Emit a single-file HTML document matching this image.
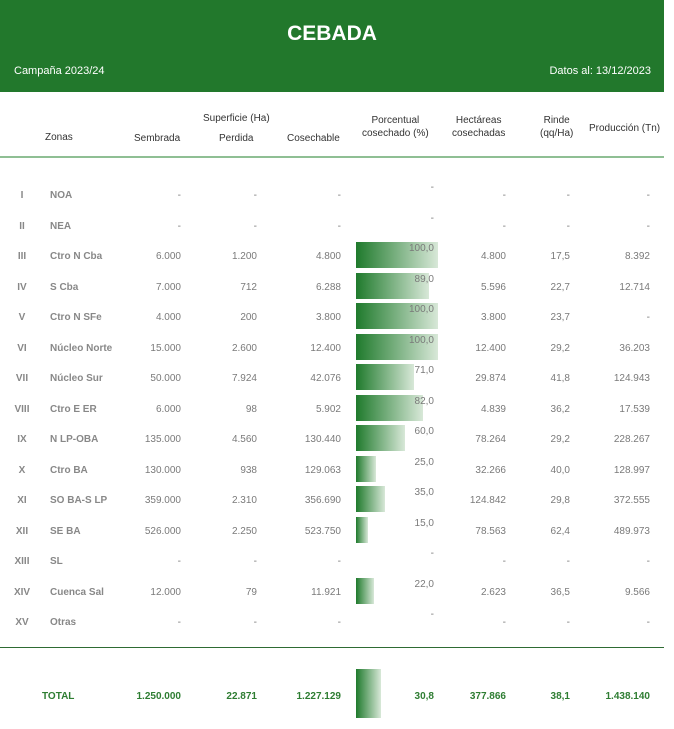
<!DOCTYPE html>
<html><head><meta charset="utf-8"><style>
body{margin:0;width:674px;height:729px;background:#fff;font-family:"Liberation Sans",sans-serif;position:relative;overflow:hidden}
.hd{position:absolute;left:0;top:0;width:664px;height:92px;background:#22782c;color:#fff}
.a{position:absolute;white-space:nowrap}
.r{position:absolute;left:0;width:674px;height:30px;font-size:10px;color:#7a7a7a}
.r span{position:absolute;top:11px;white-space:nowrap}
.n{left:0;width:44px;text-align:center;font-weight:bold;color:#888}
.z{left:50px;font-weight:bold;color:#888}
.c1{right:493px}.c2{right:417px}.c3{right:333px}.c5{right:168px}.c6{right:104px}.c7{right:24px}
.p{right:240px;top:3px!important}
.bar{position:absolute;left:356px;top:2px;height:26px;background:linear-gradient(to right,#1f7a2c,#d8e8d8)}
.th{position:absolute;font-size:10px;color:#333;text-align:center;white-space:nowrap}
.t span{color:#2e7d32;font-weight:bold}
</style></head><body>
<div class="hd">
<div class="a" style="left:0;width:664px;top:22px;text-align:center;font-size:21px;font-weight:bold">CEBADA</div>
<div class="a" style="left:14px;top:65px;font-size:11px">Campaña 2023/24</div>
<div class="a" style="right:13px;top:65px;font-size:11px">Datos al: 13/12/2023</div>
</div>
<div class="th" style="left:45px;top:132px">Zonas</div>
<div class="th" style="left:134px;top:133px">Sembrada</div>
<div class="th" style="left:203px;top:113px">Superficie (Ha)</div>
<div class="th" style="left:219px;top:133px">Perdida</div>
<div class="th" style="left:287px;top:133px">Cosechable</div>
<div class="th" style="left:362px;top:114px;line-height:13px">Porcentual<br>cosechado (%)</div>
<div class="th" style="left:452px;top:114px;line-height:13px">Hectáreas<br>cosechadas</div>
<div class="th" style="left:540px;top:114px;line-height:13px">Rinde<br>(qq/Ha)</div>
<div class="th" style="left:589px;top:123px">Producción (Tn)</div>
<div class="a" style="left:0;top:156px;width:664px;height:2px;background:#8fbf94"></div>

<div class="r" style="top:179px"><span class="n">I</span><span class="z">NOA</span><span class="c1">-</span><span class="c2">-</span><span class="c3">-</span><span class="p">-</span><span class="c5">-</span><span class="c6">-</span><span class="c7">-</span></div>
<div class="r" style="top:210px"><span class="n">II</span><span class="z">NEA</span><span class="c1">-</span><span class="c2">-</span><span class="c3">-</span><span class="p">-</span><span class="c5">-</span><span class="c6">-</span><span class="c7">-</span></div>
<div class="r" style="top:240px"><div class="bar" style="width:82px"></div><span class="n">III</span><span class="z">Ctro N Cba</span><span class="c1">6.000</span><span class="c2">1.200</span><span class="c3">4.800</span><span class="p">100,0</span><span class="c5">4.800</span><span class="c6">17,5</span><span class="c7">8.392</span></div>
<div class="r" style="top:271px"><div class="bar" style="width:73px"></div><span class="n">IV</span><span class="z">S Cba</span><span class="c1">7.000</span><span class="c2">712</span><span class="c3">6.288</span><span class="p">89,0</span><span class="c5">5.596</span><span class="c6">22,7</span><span class="c7">12.714</span></div>
<div class="r" style="top:301px"><div class="bar" style="width:82px"></div><span class="n">V</span><span class="z">Ctro N SFe</span><span class="c1">4.000</span><span class="c2">200</span><span class="c3">3.800</span><span class="p">100,0</span><span class="c5">3.800</span><span class="c6">23,7</span><span class="c7">-</span></div>
<div class="r" style="top:332px"><div class="bar" style="width:82px"></div><span class="n">VI</span><span class="z">Núcleo Norte</span><span class="c1">15.000</span><span class="c2">2.600</span><span class="c3">12.400</span><span class="p">100,0</span><span class="c5">12.400</span><span class="c6">29,2</span><span class="c7">36.203</span></div>
<div class="r" style="top:362px"><div class="bar" style="width:58px"></div><span class="n">VII</span><span class="z">Núcleo Sur</span><span class="c1">50.000</span><span class="c2">7.924</span><span class="c3">42.076</span><span class="p">71,0</span><span class="c5">29.874</span><span class="c6">41,8</span><span class="c7">124.943</span></div>
<div class="r" style="top:393px"><div class="bar" style="width:67px"></div><span class="n">VIII</span><span class="z">Ctro E ER</span><span class="c1">6.000</span><span class="c2">98</span><span class="c3">5.902</span><span class="p">82,0</span><span class="c5">4.839</span><span class="c6">36,2</span><span class="c7">17.539</span></div>
<div class="r" style="top:423px"><div class="bar" style="width:49px"></div><span class="n">IX</span><span class="z">N LP-OBA</span><span class="c1">135.000</span><span class="c2">4.560</span><span class="c3">130.440</span><span class="p">60,0</span><span class="c5">78.264</span><span class="c6">29,2</span><span class="c7">228.267</span></div>
<div class="r" style="top:454px"><div class="bar" style="width:20px"></div><span class="n">X</span><span class="z">Ctro BA</span><span class="c1">130.000</span><span class="c2">938</span><span class="c3">129.063</span><span class="p">25,0</span><span class="c5">32.266</span><span class="c6">40,0</span><span class="c7">128.997</span></div>
<div class="r" style="top:484px"><div class="bar" style="width:29px"></div><span class="n">XI</span><span class="z">SO BA-S LP</span><span class="c1">359.000</span><span class="c2">2.310</span><span class="c3">356.690</span><span class="p">35,0</span><span class="c5">124.842</span><span class="c6">29,8</span><span class="c7">372.555</span></div>
<div class="r" style="top:515px"><div class="bar" style="width:12px"></div><span class="n">XII</span><span class="z">SE BA</span><span class="c1">526.000</span><span class="c2">2.250</span><span class="c3">523.750</span><span class="p">15,0</span><span class="c5">78.563</span><span class="c6">62,4</span><span class="c7">489.973</span></div>
<div class="r" style="top:545px"><span class="n">XIII</span><span class="z">SL</span><span class="c1">-</span><span class="c2">-</span><span class="c3">-</span><span class="p">-</span><span class="c5">-</span><span class="c6">-</span><span class="c7">-</span></div>
<div class="r" style="top:576px"><div class="bar" style="width:18px"></div><span class="n">XIV</span><span class="z">Cuenca Sal</span><span class="c1">12.000</span><span class="c2">79</span><span class="c3">11.921</span><span class="p">22,0</span><span class="c5">2.623</span><span class="c6">36,5</span><span class="c7">9.566</span></div>
<div class="r" style="top:606px"><span class="n">XV</span><span class="z">Otras</span><span class="c1">-</span><span class="c2">-</span><span class="c3">-</span><span class="p">-</span><span class="c5">-</span><span class="c6">-</span><span class="c7">-</span></div>

<div class="a" style="left:0;top:647px;width:664px;height:1px;background:#2e6b33"></div>
<div class="bar" style="left:356px;top:669px;width:25px;height:49px"></div>
<div class="r t" style="top:680px"><span style="left:42px">TOTAL</span><span class="c1">1.250.000</span><span class="c2">22.871</span><span class="c3">1.227.129</span><span style="right:240px">30,8</span><span class="c5">377.866</span><span class="c6">38,1</span><span class="c7">1.438.140</span></div>
</body></html>
